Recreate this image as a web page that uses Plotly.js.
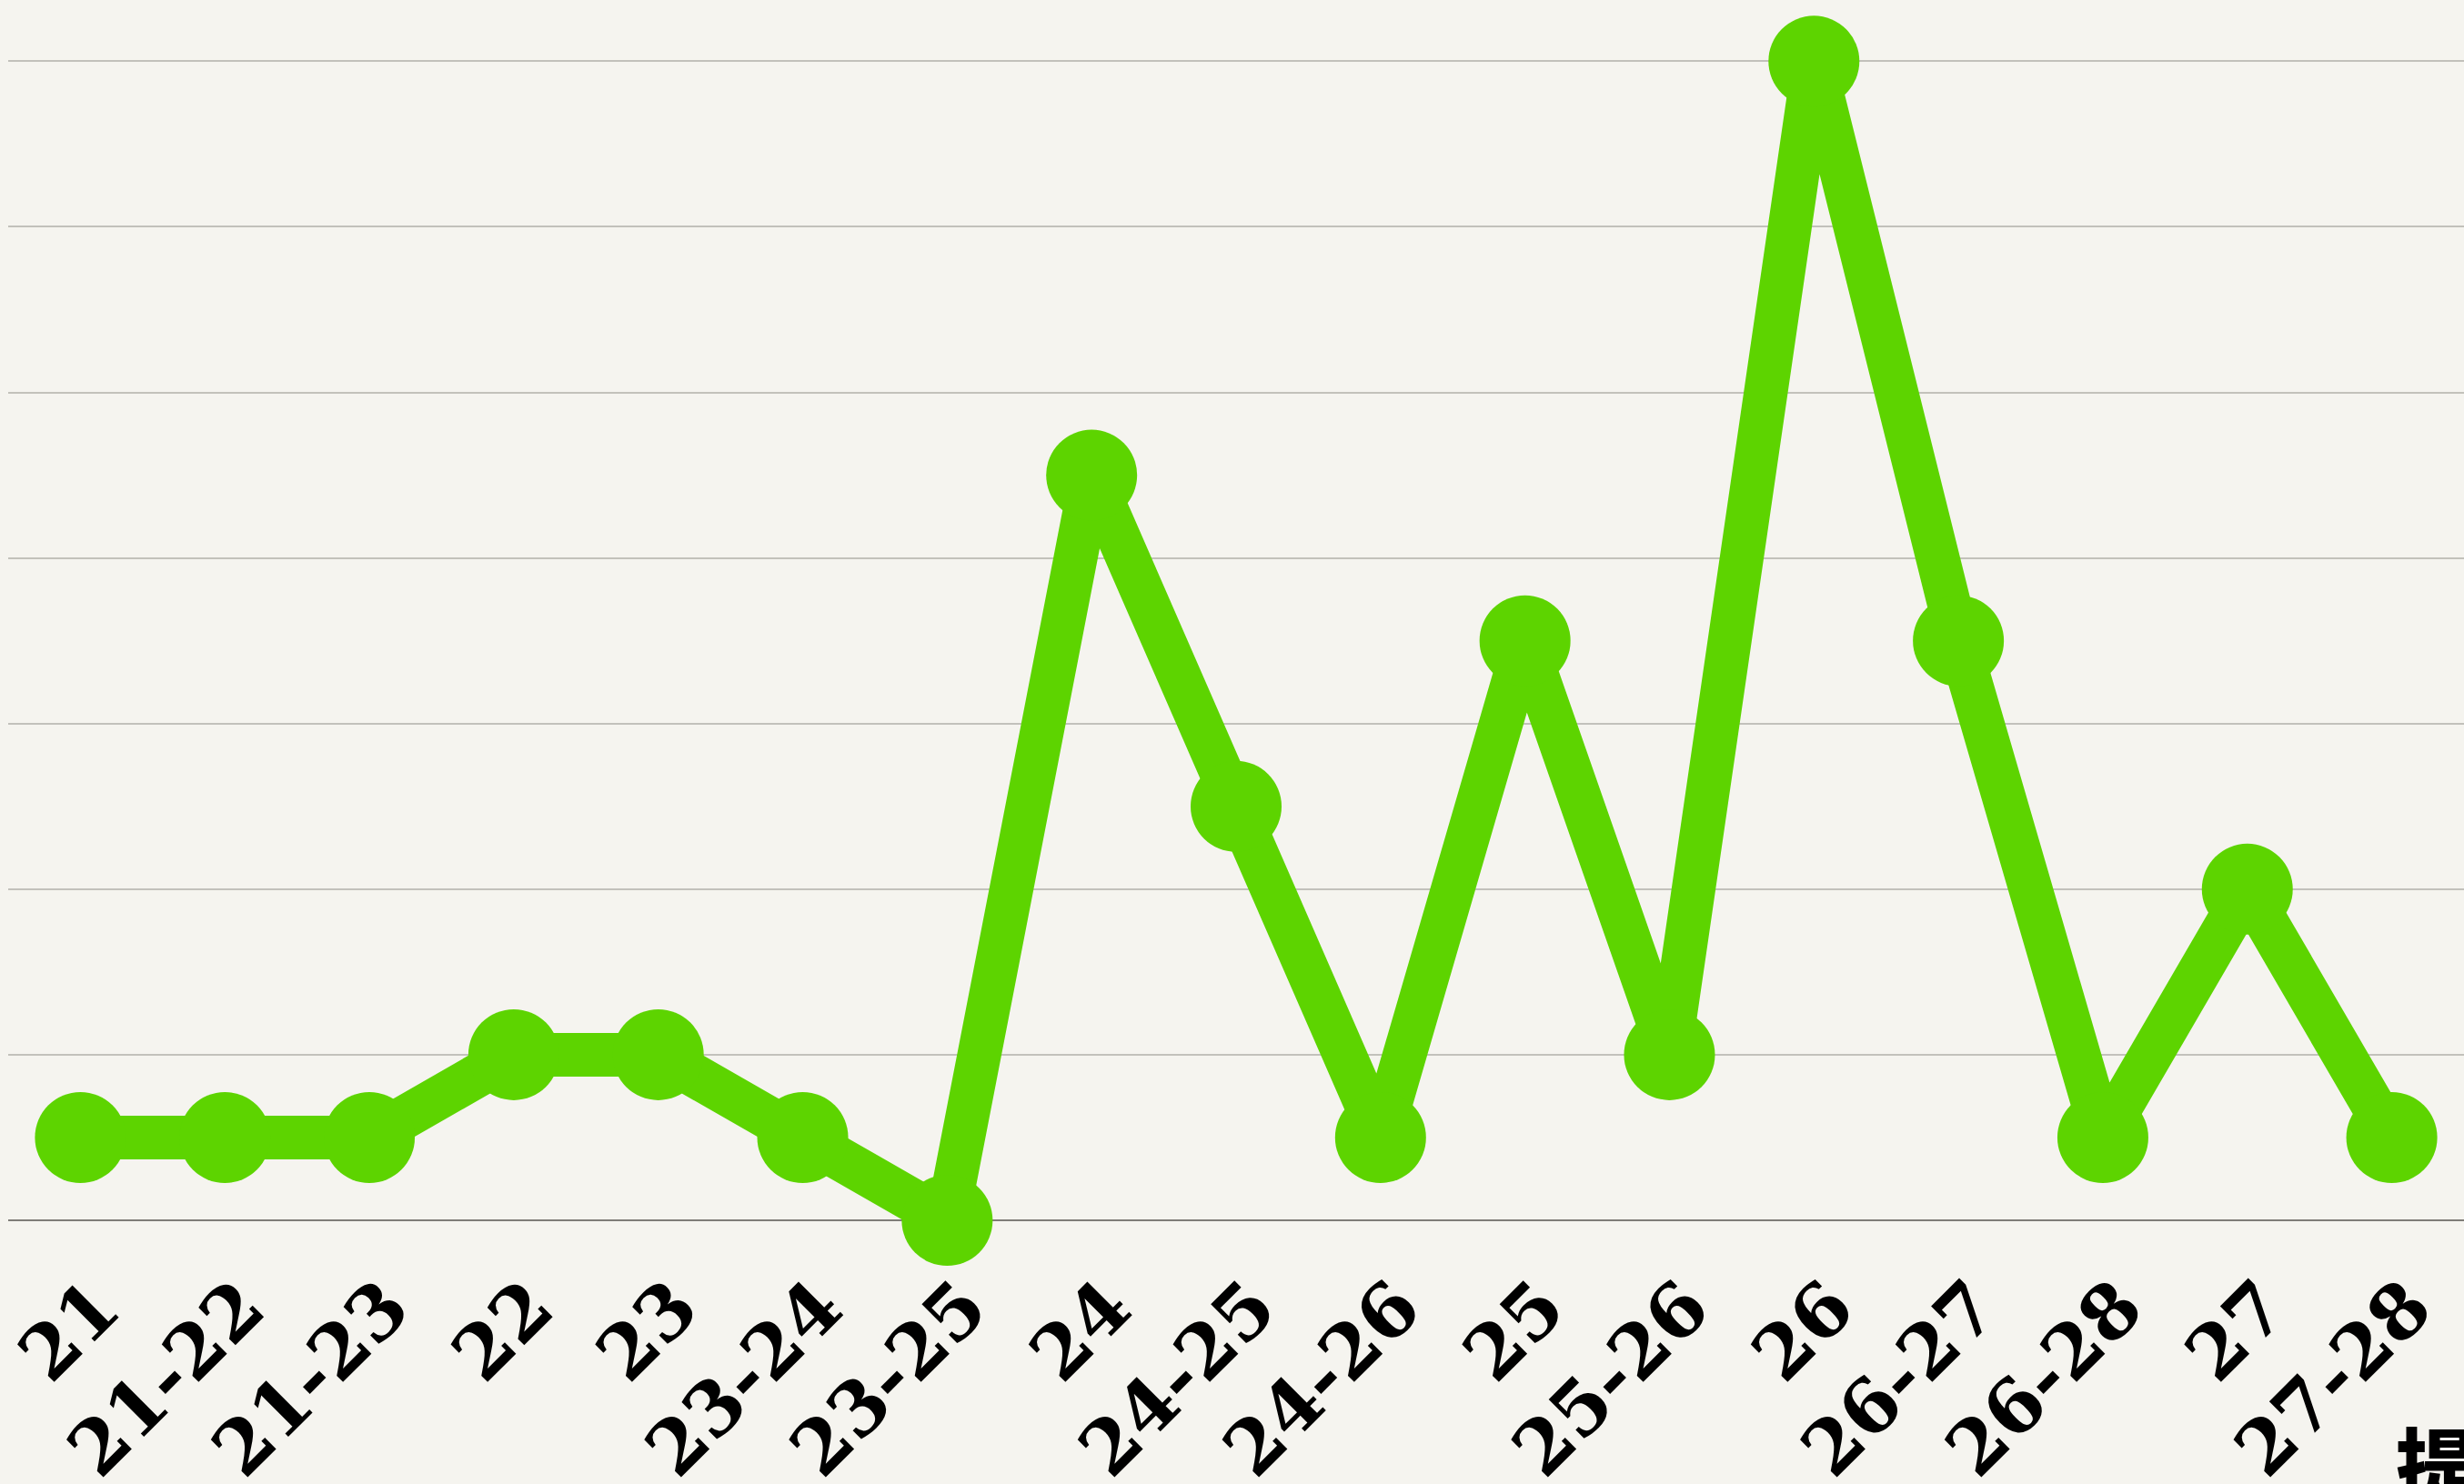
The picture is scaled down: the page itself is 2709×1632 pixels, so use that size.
<!DOCTYPE html>
<html>
<head>
<meta charset="utf-8">
<script src="https://cdn.plot.ly/plotly-3.0.1.min.js"></script>
<style>
html,body{margin:0;padding:0;background:#f5f4ef;overflow:hidden;}
#chart{width:2709px;height:1632px;}
</style>
</head>
<body>
<div id="chart"></div>
<script>
const categories = ["21","21-22","21-23","22","23","23-24","23-25","24","24-25","24-26","25","25-26","26","26-27","26-28","27","27-28"];
const values = [1,1,1,2,2,1,0,9,5,1,7,2,14,7,1,4,1];
const cornerNote = "提出";

const lineColor = "#5dd400";

const trace = {
  x: categories,
  y: values,
  type: "scatter",
  mode: "lines+markers",
  line: {color: lineColor, width: 48},
  marker: {color: lineColor, size: 100},
  cliponaxis: false,
  hoverinfo: "skip",
  showlegend: false
};

const layout = {
  width: 2709,
  height: 1632,
  paper_bgcolor: "#f5f4ef",
  plot_bgcolor: "#f5f4ef",
  margin: {l: 9, r: 0, t: 0, b: 240, pad: 0},
  showlegend: false,
  xaxis: {
    type: "category",
    range: [-0.5, 16.5],
    showgrid: false,
    zeroline: false,
    showline: false,
    ticks: "",
    tickangle: -45,
    ticklabelshift: 19,
    ticklabelstandoff: -20,
    tickfont: {family: "DejaVu Serif", size: 82, color: "#000000", weight: "bold"}
  },
  yaxis: {
    range: [-0.549, 14.74],
    dtick: 2,
    tick0: 0,
    showticklabels: false,
    ticks: "",
    showgrid: true,
    gridcolor: "#c2c1bb",
    gridwidth: 2,
    zeroline: true,
    zerolinecolor: "#7f7d78",
    zerolinewidth: 2,
    showline: false
  },
  annotations: [{
    xref: "paper", yref: "paper",
    x: (2632 - 9) / 2700, y: -(1540 - 1392) / 1392,
    xanchor: "left", yanchor: "top",
    text: cornerNote,
    showarrow: false,
    font: {family: "Noto Sans CJK SC", size: 90, color: "#000000", weight: 900}
  }]
};

Plotly.newPlot("chart", [trace], layout, {displayModeBar: false, staticPlot: true});
</script>
</body>
</html>
